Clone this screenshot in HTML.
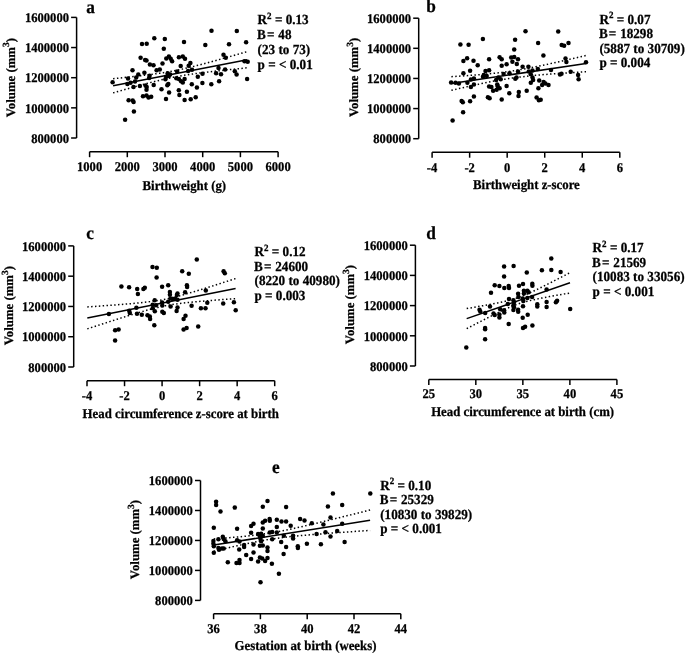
<!DOCTYPE html>
<html><head><meta charset="utf-8"><style>
html,body{margin:0;padding:0;background:#fff;}
svg{display:block;filter:grayscale(1);}
text{text-rendering:geometricPrecision;font-family:"Liberation Serif", serif;font-weight:bold;fill:#000;stroke:#000;stroke-width:0.25px;}
path{stroke:#000;stroke-width:1.5;fill:none;}
circle{fill:#000;}
</style></head><body>
<svg width="685" height="654" viewBox="0 0 685 654">
<path d="M76.6 17.4V138" />
<path d="M71.1 17.4H76.6" />
<text transform="translate(69 22.1) scale(1.0 1.06)" font-size="12.6" text-anchor="end">1600000</text>
<path d="M71.1 47.55H76.6" />
<text transform="translate(69 52.25) scale(1.0 1.06)" font-size="12.6" text-anchor="end">1400000</text>
<path d="M71.1 77.7H76.6" />
<text transform="translate(69 82.4) scale(1.0 1.06)" font-size="12.6" text-anchor="end">1200000</text>
<path d="M71.1 107.85H76.6" />
<text transform="translate(69 112.55) scale(1.0 1.06)" font-size="12.6" text-anchor="end">1000000</text>
<path d="M71.1 138H76.6" />
<text transform="translate(69 142.7) scale(1.0 1.06)" font-size="12.6" text-anchor="end">800000</text>
<path d="M89.6 151.7H278.1" />
<path d="M89.6 151.7V157.2" />
<text transform="translate(89.6 171.3) scale(1.0 1.06)" font-size="12.6" text-anchor="middle">1000</text>
<path d="M127.3 151.7V157.2" />
<text transform="translate(127.3 171.3) scale(1.0 1.06)" font-size="12.6" text-anchor="middle">2000</text>
<path d="M165 151.7V157.2" />
<text transform="translate(165 171.3) scale(1.0 1.06)" font-size="12.6" text-anchor="middle">3000</text>
<path d="M202.7 151.7V157.2" />
<text transform="translate(202.7 171.3) scale(1.0 1.06)" font-size="12.6" text-anchor="middle">4000</text>
<path d="M240.4 151.7V157.2" />
<text transform="translate(240.4 171.3) scale(1.0 1.06)" font-size="12.6" text-anchor="middle">5000</text>
<path d="M278.1 151.7V157.2" />
<text transform="translate(278.1 171.3) scale(1.0 1.06)" font-size="12.6" text-anchor="middle">6000</text>
<text transform="translate(184.3 189.6) scale(1.0 1.06)" font-size="12.8" text-anchor="middle">Birthweight (g)</text>
<text transform="translate(14.7 77.6) rotate(-90)" text-anchor="middle" font-size="12.8">Volume (mm<tspan dy="-5.3" font-size="9.5">3</tspan><tspan dy="5.3">)</tspan></text>
<text transform="translate(86.3 12.5) scale(1.0 1.06)" font-size="17.3">a</text>
<text transform="translate(257.6 24.1) scale(1.0 1.06)" font-size="13.15">R<tspan dy="-5" font-size="9">2</tspan><tspan dy="5"> = 0.13</tspan></text>
<text transform="translate(257.1 38.5) scale(1.0 1.06)" font-size="13.15" xml:space="preserve">B<tspan dx="1.2">=</tspan><tspan dx="0.5"> 48</tspan></text>
<text transform="translate(257.6 53.5) scale(1.0 1.06)" font-size="13.15" xml:space="preserve">(23 to 73)</text>
<text transform="translate(257.6 69) scale(1.0 1.06)" font-size="13.15" xml:space="preserve">p = &lt; 0.01</text>
<path d="M113.1 85.8L247.2 59.7" stroke-width="1.6"/>
<path d="M113.1 78.71 L116.45 78.36 L119.8 78.01 L123.16 77.66 L126.51 77.3 L129.86 76.94 L133.22 76.56 L136.57 76.19 L139.92 75.8 L143.27 75.4 L146.62 74.98 L149.98 74.56 L153.33 74.11 L156.68 73.64 L160.03 73.15 L163.39 72.64 L166.74 72.09 L170.09 71.5 L173.44 70.88 L176.8 70.23 L180.15 69.53 L183.5 68.8 L186.85 68.04 L190.21 67.24 L193.56 66.42 L196.91 65.58 L200.26 64.71 L203.62 63.83 L206.97 62.94 L210.32 62.03 L213.68 61.11 L217.03 60.18 L220.38 59.25 L223.73 58.3 L227.08 57.36 L230.44 56.4 L233.79 55.45 L237.14 54.49 L240.5 53.52 L243.85 52.56 L247.2 51.59" stroke-width="1.25" stroke-dasharray="1.45 2.4" fill="none"/>
<path d="M113.1 92.89 L116.45 91.93 L119.8 90.98 L123.16 90.03 L126.51 89.08 L129.86 88.14 L133.22 87.21 L136.57 86.28 L139.92 85.36 L143.27 84.46 L146.62 83.57 L149.98 82.69 L153.33 81.83 L156.68 80.99 L160.03 80.18 L163.39 79.39 L166.74 78.63 L170.09 77.91 L173.44 77.23 L176.8 76.58 L180.15 75.97 L183.5 75.39 L186.85 74.85 L190.21 74.34 L193.56 73.86 L196.91 73.4 L200.26 72.96 L203.62 72.53 L206.97 72.12 L210.32 71.73 L213.68 71.34 L217.03 70.96 L220.38 70.59 L223.73 70.23 L227.08 69.87 L230.44 69.52 L233.79 69.17 L237.14 68.83 L240.5 68.49 L243.85 68.15 L247.2 67.81" stroke-width="1.25" stroke-dasharray="1.45 2.4" fill="none"/>
<circle cx="154.3" cy="38.3" r="2.25"/>
<circle cx="164.8" cy="39.1" r="2.25"/>
<circle cx="142" cy="44.1" r="2.25"/>
<circle cx="146.7" cy="43.8" r="2.25"/>
<circle cx="163.8" cy="48.7" r="2.25"/>
<circle cx="140.6" cy="57.8" r="2.25"/>
<circle cx="145.1" cy="60.1" r="2.25"/>
<circle cx="146.5" cy="60.6" r="2.25"/>
<circle cx="149.9" cy="64.6" r="2.25"/>
<circle cx="153.5" cy="65.2" r="2.25"/>
<circle cx="162.5" cy="63.4" r="2.25"/>
<circle cx="166.3" cy="58.5" r="2.25"/>
<circle cx="168.9" cy="56.4" r="2.25"/>
<circle cx="170.7" cy="58.7" r="2.25"/>
<circle cx="172.1" cy="61.3" r="2.25"/>
<circle cx="132.5" cy="70.2" r="2.25"/>
<circle cx="144.4" cy="72.8" r="2.25"/>
<circle cx="156.6" cy="70.2" r="2.25"/>
<circle cx="159.8" cy="69.5" r="2.25"/>
<circle cx="138.3" cy="74.5" r="2.25"/>
<circle cx="136.2" cy="77.4" r="2.25"/>
<circle cx="128" cy="78.6" r="2.25"/>
<circle cx="149.6" cy="75.7" r="2.25"/>
<circle cx="167.7" cy="73.3" r="2.25"/>
<circle cx="170.1" cy="74.5" r="2.25"/>
<circle cx="177.1" cy="71.6" r="2.25"/>
<circle cx="211.5" cy="30.7" r="2.25"/>
<circle cx="236.8" cy="30.9" r="2.25"/>
<circle cx="184" cy="42" r="2.25"/>
<circle cx="205.3" cy="45" r="2.25"/>
<circle cx="229" cy="44.3" r="2.25"/>
<circle cx="246.1" cy="42.2" r="2.25"/>
<circle cx="223.5" cy="54.8" r="2.25"/>
<circle cx="225.8" cy="57.8" r="2.25"/>
<circle cx="178.9" cy="57.3" r="2.25"/>
<circle cx="182.8" cy="56.4" r="2.25"/>
<circle cx="185" cy="58.7" r="2.25"/>
<circle cx="190.4" cy="62.9" r="2.25"/>
<circle cx="188.7" cy="65.7" r="2.25"/>
<circle cx="180.7" cy="66.1" r="2.25"/>
<circle cx="188.1" cy="71" r="2.25"/>
<circle cx="192" cy="69.8" r="2.25"/>
<circle cx="218.5" cy="68.1" r="2.25"/>
<circle cx="225.1" cy="69.6" r="2.25"/>
<circle cx="244.5" cy="61.3" r="2.25"/>
<circle cx="247.7" cy="61.7" r="2.25"/>
<circle cx="234.8" cy="71.2" r="2.25"/>
<circle cx="236.6" cy="74.5" r="2.25"/>
<circle cx="202.5" cy="73.7" r="2.25"/>
<circle cx="197.8" cy="76.8" r="2.25"/>
<circle cx="216.1" cy="73.3" r="2.25"/>
<circle cx="221" cy="74.3" r="2.25"/>
<circle cx="247.1" cy="79" r="2.25"/>
<circle cx="112.6" cy="82.2" r="2.25"/>
<circle cx="127.4" cy="84" r="2.25"/>
<circle cx="130.6" cy="82.8" r="2.25"/>
<circle cx="135" cy="81.6" r="2.25"/>
<circle cx="133.5" cy="86.9" r="2.25"/>
<circle cx="139.9" cy="85.9" r="2.25"/>
<circle cx="145.5" cy="85.5" r="2.25"/>
<circle cx="146.7" cy="86.9" r="2.25"/>
<circle cx="146.5" cy="89.8" r="2.25"/>
<circle cx="149.1" cy="78.1" r="2.25"/>
<circle cx="153.7" cy="85.1" r="2.25"/>
<circle cx="161.5" cy="89.2" r="2.25"/>
<circle cx="165.4" cy="79.3" r="2.25"/>
<circle cx="168.3" cy="84" r="2.25"/>
<circle cx="169.1" cy="92.5" r="2.25"/>
<circle cx="166" cy="98.9" r="2.25"/>
<circle cx="143" cy="96.2" r="2.25"/>
<circle cx="146.5" cy="95.6" r="2.25"/>
<circle cx="148.5" cy="97.6" r="2.25"/>
<circle cx="151.2" cy="96.8" r="2.25"/>
<circle cx="128.6" cy="100.3" r="2.25"/>
<circle cx="132.7" cy="100.5" r="2.25"/>
<circle cx="133.6" cy="101.9" r="2.25"/>
<circle cx="168.8" cy="76" r="2.25"/>
<circle cx="166.2" cy="76.8" r="2.25"/>
<circle cx="167.3" cy="85.3" r="2.25"/>
<circle cx="133.9" cy="111.6" r="2.25"/>
<circle cx="125.1" cy="119.8" r="2.25"/>
<circle cx="178.8" cy="90.2" r="2.25"/>
<circle cx="179.4" cy="95.1" r="2.25"/>
<circle cx="176.3" cy="78.2" r="2.25"/>
<circle cx="178.9" cy="79" r="2.25"/>
<circle cx="181.1" cy="81.2" r="2.25"/>
<circle cx="182.8" cy="82.5" r="2.25"/>
<circle cx="184.6" cy="79" r="2.25"/>
<circle cx="191.8" cy="84.3" r="2.25"/>
<circle cx="196.9" cy="87.5" r="2.25"/>
<circle cx="202.4" cy="83.1" r="2.25"/>
<circle cx="211.3" cy="84.2" r="2.25"/>
<circle cx="219.1" cy="81.3" r="2.25"/>
<circle cx="186.9" cy="91.8" r="2.25"/>
<circle cx="184.6" cy="100.1" r="2.25"/>
<circle cx="190.7" cy="99.3" r="2.25"/>
<circle cx="195.7" cy="97.2" r="2.25"/>
<path d="M418.7 18.2V138.7" />
<path d="M413.2 18.2H418.7" />
<text transform="translate(411.1 22.9) scale(1.0 1.06)" font-size="12.6" text-anchor="end">1600000</text>
<path d="M413.2 48.32H418.7" />
<text transform="translate(411.1 53.02) scale(1.0 1.06)" font-size="12.6" text-anchor="end">1400000</text>
<path d="M413.2 78.45H418.7" />
<text transform="translate(411.1 83.15) scale(1.0 1.06)" font-size="12.6" text-anchor="end">1200000</text>
<path d="M413.2 108.57H418.7" />
<text transform="translate(411.1 113.27) scale(1.0 1.06)" font-size="12.6" text-anchor="end">1000000</text>
<path d="M413.2 138.7H418.7" />
<text transform="translate(411.1 143.4) scale(1.0 1.06)" font-size="12.6" text-anchor="end">800000</text>
<path d="M432.1 152.2H619.8" />
<path d="M432.1 152.2V157.7" />
<text transform="translate(432.1 171.6) scale(1.0 1.06)" font-size="12.6" text-anchor="middle">-4</text>
<path d="M469.64 152.2V157.7" />
<text transform="translate(469.64 171.6) scale(1.0 1.06)" font-size="12.6" text-anchor="middle">-2</text>
<path d="M507.18 152.2V157.7" />
<text transform="translate(507.18 171.6) scale(1.0 1.06)" font-size="12.6" text-anchor="middle">0</text>
<path d="M544.72 152.2V157.7" />
<text transform="translate(544.72 171.6) scale(1.0 1.06)" font-size="12.6" text-anchor="middle">2</text>
<path d="M582.26 152.2V157.7" />
<text transform="translate(582.26 171.6) scale(1.0 1.06)" font-size="12.6" text-anchor="middle">4</text>
<path d="M619.8 152.2V157.7" />
<text transform="translate(619.8 171.6) scale(1.0 1.06)" font-size="12.6" text-anchor="middle">6</text>
<text transform="translate(526.4 189.1) scale(1.0 1.06)" font-size="12.8" text-anchor="middle">Birthweight z-score</text>
<text transform="translate(358.3 77.4) rotate(-90)" text-anchor="middle" font-size="12.8">Volume (mm<tspan dy="-5.3" font-size="9.5">3</tspan><tspan dy="5.3">)</tspan></text>
<text transform="translate(426.2 12.4) scale(1.0 1.06)" font-size="17.3">b</text>
<text transform="translate(599.4 23.7) scale(1.0 1.06)" font-size="13.15">R<tspan dy="-5" font-size="9">2</tspan><tspan dy="5"> = 0.07</tspan></text>
<text transform="translate(598.9 38.4) scale(1.0 1.06)" font-size="13.15" xml:space="preserve">B<tspan dx="1.2">=</tspan><tspan dx="0.5"> 18298</tspan></text>
<text transform="translate(599.4 52.6) scale(1.0 1.06)" font-size="13.15" xml:space="preserve">(5887 to 30709)</text>
<text transform="translate(599.4 67.1) scale(1.0 1.06)" font-size="13.15" xml:space="preserve">p = 0.004</text>
<path d="M451.4 83.5L586 63.6" stroke-width="1.6"/>
<path d="M451.4 76.71 L454.76 76.49 L458.13 76.26 L461.5 76.03 L464.86 75.79 L468.22 75.55 L471.59 75.29 L474.95 75.03 L478.32 74.75 L481.69 74.47 L485.05 74.16 L488.41 73.85 L491.78 73.51 L495.14 73.15 L498.51 72.77 L501.88 72.37 L505.24 71.94 L508.6 71.47 L511.97 70.98 L515.34 70.46 L518.7 69.91 L522.06 69.33 L525.43 68.73 L528.79 68.1 L532.16 67.45 L535.52 66.78 L538.89 66.09 L542.25 65.39 L545.62 64.68 L548.99 63.95 L552.35 63.21 L555.72 62.47 L559.08 61.71 L562.45 60.95 L565.81 60.19 L569.17 59.42 L572.54 58.64 L575.9 57.86 L579.27 57.08 L582.63 56.29 L586 55.5" stroke-width="1.25" stroke-dasharray="1.45 2.4" fill="none"/>
<path d="M451.4 90.29 L454.76 89.52 L458.13 88.75 L461.5 87.99 L464.86 87.23 L468.22 86.48 L471.59 85.74 L474.95 85.01 L478.32 84.29 L481.69 83.58 L485.05 82.89 L488.41 82.21 L491.78 81.55 L495.14 80.91 L498.51 80.3 L501.88 79.71 L505.24 79.14 L508.6 78.61 L511.97 78.11 L515.34 77.63 L518.7 77.19 L522.06 76.77 L525.43 76.38 L528.79 76.01 L532.16 75.67 L535.52 75.34 L538.89 75.04 L542.25 74.74 L545.62 74.46 L548.99 74.2 L552.35 73.94 L555.72 73.69 L559.08 73.45 L562.45 73.21 L565.81 72.98 L569.17 72.76 L572.54 72.54 L575.9 72.33 L579.27 72.11 L582.63 71.9 L586 71.7" stroke-width="1.25" stroke-dasharray="1.45 2.4" fill="none"/>
<circle cx="482.9" cy="38.9" r="2.25"/>
<circle cx="515.1" cy="39.8" r="2.25"/>
<circle cx="460.4" cy="44.4" r="2.25"/>
<circle cx="468.6" cy="44.7" r="2.25"/>
<circle cx="514.2" cy="49.4" r="2.25"/>
<circle cx="467.1" cy="58.2" r="2.25"/>
<circle cx="463.4" cy="61.1" r="2.25"/>
<circle cx="473.5" cy="60.8" r="2.25"/>
<circle cx="489.1" cy="59.3" r="2.25"/>
<circle cx="499.6" cy="57.3" r="2.25"/>
<circle cx="501.7" cy="59.3" r="2.25"/>
<circle cx="511.2" cy="57.6" r="2.25"/>
<circle cx="514.2" cy="57" r="2.25"/>
<circle cx="512.4" cy="61.7" r="2.25"/>
<circle cx="518" cy="59.3" r="2.25"/>
<circle cx="516.8" cy="64" r="2.25"/>
<circle cx="506.6" cy="64.2" r="2.25"/>
<circle cx="501.7" cy="65.7" r="2.25"/>
<circle cx="477.7" cy="65.2" r="2.25"/>
<circle cx="470.1" cy="70.8" r="2.25"/>
<circle cx="463.4" cy="73.3" r="2.25"/>
<circle cx="485.5" cy="71" r="2.25"/>
<circle cx="489.1" cy="70.2" r="2.25"/>
<circle cx="483.8" cy="74.9" r="2.25"/>
<circle cx="486.7" cy="76" r="2.25"/>
<circle cx="483" cy="76.8" r="2.25"/>
<circle cx="503.6" cy="73.9" r="2.25"/>
<circle cx="509.5" cy="73.3" r="2.25"/>
<circle cx="518" cy="71.6" r="2.25"/>
<circle cx="498.4" cy="77.4" r="2.25"/>
<circle cx="525.5" cy="31.3" r="2.25"/>
<circle cx="558.2" cy="31.5" r="2.25"/>
<circle cx="538.1" cy="43" r="2.25"/>
<circle cx="561.7" cy="45" r="2.25"/>
<circle cx="564.1" cy="45.7" r="2.25"/>
<circle cx="568.5" cy="43" r="2.25"/>
<circle cx="543.4" cy="55.6" r="2.25"/>
<circle cx="565.5" cy="58.5" r="2.25"/>
<circle cx="566.4" cy="62" r="2.25"/>
<circle cx="586" cy="62.2" r="2.25"/>
<circle cx="522.6" cy="66.7" r="2.25"/>
<circle cx="528.4" cy="66.7" r="2.25"/>
<circle cx="532.5" cy="70.4" r="2.25"/>
<circle cx="537.8" cy="69" r="2.25"/>
<circle cx="528.8" cy="71.6" r="2.25"/>
<circle cx="530.8" cy="74.2" r="2.25"/>
<circle cx="551" cy="70.1" r="2.25"/>
<circle cx="560" cy="74.5" r="2.25"/>
<circle cx="561.5" cy="73.7" r="2.25"/>
<circle cx="570.7" cy="71.8" r="2.25"/>
<circle cx="578.1" cy="75.1" r="2.25"/>
<circle cx="578.6" cy="79.2" r="2.25"/>
<circle cx="451.1" cy="82.6" r="2.25"/>
<circle cx="455.5" cy="82.8" r="2.25"/>
<circle cx="458.9" cy="83.4" r="2.25"/>
<circle cx="467.4" cy="82.8" r="2.25"/>
<circle cx="470.9" cy="79.6" r="2.25"/>
<circle cx="473.9" cy="78.5" r="2.25"/>
<circle cx="473.9" cy="84.5" r="2.25"/>
<circle cx="470.9" cy="86.9" r="2.25"/>
<circle cx="496.1" cy="80.1" r="2.25"/>
<circle cx="500.7" cy="79.3" r="2.25"/>
<circle cx="489.1" cy="86.5" r="2.25"/>
<circle cx="491.4" cy="86.9" r="2.25"/>
<circle cx="497.2" cy="84.5" r="2.25"/>
<circle cx="497.8" cy="86.3" r="2.25"/>
<circle cx="499.6" cy="88.3" r="2.25"/>
<circle cx="493.1" cy="90.7" r="2.25"/>
<circle cx="496.6" cy="89.8" r="2.25"/>
<circle cx="506.6" cy="85.9" r="2.25"/>
<circle cx="509.3" cy="93.3" r="2.25"/>
<circle cx="515.3" cy="78.7" r="2.25"/>
<circle cx="516.5" cy="77.5" r="2.25"/>
<circle cx="518.8" cy="92.1" r="2.25"/>
<circle cx="518.5" cy="96" r="2.25"/>
<circle cx="473.9" cy="96.5" r="2.25"/>
<circle cx="487.9" cy="97.2" r="2.25"/>
<circle cx="489.6" cy="98.3" r="2.25"/>
<circle cx="501.7" cy="99.5" r="2.25"/>
<circle cx="461.6" cy="101.1" r="2.25"/>
<circle cx="462.8" cy="102.3" r="2.25"/>
<circle cx="470.1" cy="101.2" r="2.25"/>
<circle cx="463.1" cy="112.2" r="2.25"/>
<circle cx="452.6" cy="120.5" r="2.25"/>
<circle cx="532.5" cy="77.5" r="2.25"/>
<circle cx="533.1" cy="79.9" r="2.25"/>
<circle cx="530.8" cy="82.8" r="2.25"/>
<circle cx="539.2" cy="80.5" r="2.25"/>
<circle cx="543.6" cy="82" r="2.25"/>
<circle cx="542.1" cy="85.1" r="2.25"/>
<circle cx="545.4" cy="83.6" r="2.25"/>
<circle cx="548.5" cy="85.1" r="2.25"/>
<circle cx="538.4" cy="88.3" r="2.25"/>
<circle cx="526.7" cy="90.7" r="2.25"/>
<circle cx="536.6" cy="97.6" r="2.25"/>
<circle cx="538.9" cy="100.3" r="2.25"/>
<circle cx="540.7" cy="99.7" r="2.25"/>
<path d="M73.7 245.9V367" />
<path d="M68.2 245.9H73.7" />
<text transform="translate(66.1 250.6) scale(1.0 1.06)" font-size="12.6" text-anchor="end">1600000</text>
<path d="M68.2 276.18H73.7" />
<text transform="translate(66.1 280.88) scale(1.0 1.06)" font-size="12.6" text-anchor="end">1400000</text>
<path d="M68.2 306.45H73.7" />
<text transform="translate(66.1 311.15) scale(1.0 1.06)" font-size="12.6" text-anchor="end">1200000</text>
<path d="M68.2 336.73H73.7" />
<text transform="translate(66.1 341.43) scale(1.0 1.06)" font-size="12.6" text-anchor="end">1000000</text>
<path d="M68.2 367H73.7" />
<text transform="translate(66.1 371.7) scale(1.0 1.06)" font-size="12.6" text-anchor="end">800000</text>
<path d="M87 380.7H274.7" />
<path d="M87 380.7V386.2" />
<text transform="translate(87 399.8) scale(1.0 1.06)" font-size="12.6" text-anchor="middle">-4</text>
<path d="M124.54 380.7V386.2" />
<text transform="translate(124.54 399.8) scale(1.0 1.06)" font-size="12.6" text-anchor="middle">-2</text>
<path d="M162.08 380.7V386.2" />
<text transform="translate(162.08 399.8) scale(1.0 1.06)" font-size="12.6" text-anchor="middle">0</text>
<path d="M199.62 380.7V386.2" />
<text transform="translate(199.62 399.8) scale(1.0 1.06)" font-size="12.6" text-anchor="middle">2</text>
<path d="M237.16 380.7V386.2" />
<text transform="translate(237.16 399.8) scale(1.0 1.06)" font-size="12.6" text-anchor="middle">4</text>
<path d="M274.7 380.7V386.2" />
<text transform="translate(274.7 399.8) scale(1.0 1.06)" font-size="12.6" text-anchor="middle">6</text>
<text transform="translate(180.7 417.7) scale(1.0 1.06)" font-size="12.8" text-anchor="middle">Head circumference z-score at birth</text>
<text transform="translate(13.4 305.6) rotate(-90)" text-anchor="middle" font-size="12.8">Volume (mm<tspan dy="-5.3" font-size="9.5">3</tspan><tspan dy="5.3">)</tspan></text>
<text transform="translate(86.2 238.9) scale(1.0 1.06)" font-size="17.3">c</text>
<text transform="translate(254.5 256.1) scale(1.0 1.06)" font-size="13.15">R<tspan dy="-5" font-size="9">2</tspan><tspan dy="5"> = 0.12</tspan></text>
<text transform="translate(254 270.7) scale(1.0 1.06)" font-size="13.15" xml:space="preserve">B<tspan dx="1.2">=</tspan><tspan dx="0.5"> 24600</tspan></text>
<text transform="translate(254.5 284.7) scale(1.0 1.06)" font-size="13.15" xml:space="preserve">(8220 to 40980)</text>
<text transform="translate(254.5 299.6) scale(1.0 1.06)" font-size="13.15" xml:space="preserve">p = 0.003</text>
<path d="M87.3 317.9L235.6 288.6" stroke-width="1.6"/>
<path d="M87.3 306.94 L91.01 306.68 L94.72 306.42 L98.42 306.16 L102.13 305.89 L105.84 305.62 L109.55 305.35 L113.25 305.07 L116.96 304.78 L120.67 304.49 L124.38 304.19 L128.08 303.88 L131.79 303.56 L135.5 303.22 L139.21 302.86 L142.91 302.47 L146.62 302.06 L150.33 301.6 L154.03 301.1 L157.74 300.54 L161.45 299.92 L165.16 299.22 L168.87 298.44 L172.57 297.6 L176.28 296.69 L179.99 295.72 L183.69 294.71 L187.4 293.65 L191.11 292.57 L194.82 291.46 L198.52 290.34 L202.23 289.2 L205.94 288.04 L209.65 286.88 L213.36 285.7 L217.06 284.52 L220.77 283.34 L224.48 282.14 L228.19 280.95 L231.89 279.75 L235.6 278.55" stroke-width="1.25" stroke-dasharray="1.45 2.4" fill="none"/>
<path d="M87.3 328.86 L91.01 327.65 L94.72 326.45 L98.42 325.25 L102.13 324.05 L105.84 322.85 L109.55 321.66 L113.25 320.48 L116.96 319.3 L120.67 318.12 L124.38 316.96 L128.08 315.8 L131.79 314.66 L135.5 313.54 L139.21 312.43 L142.91 311.35 L146.62 310.3 L150.33 309.29 L154.03 308.33 L157.74 307.42 L161.45 306.58 L165.16 305.82 L168.87 305.13 L172.57 304.51 L176.28 303.95 L179.99 303.45 L183.69 303 L187.4 302.59 L191.11 302.21 L194.82 301.85 L198.52 301.51 L202.23 301.19 L205.94 300.88 L209.65 300.58 L213.36 300.29 L217.06 300 L220.77 299.72 L224.48 299.45 L228.19 299.18 L231.89 298.92 L235.6 298.65" stroke-width="1.25" stroke-dasharray="1.45 2.4" fill="none"/>
<circle cx="152.5" cy="266.9" r="2.25"/>
<circle cx="156.8" cy="267.8" r="2.25"/>
<circle cx="156.6" cy="277.4" r="2.25"/>
<circle cx="121.4" cy="286.5" r="2.25"/>
<circle cx="129.1" cy="287.3" r="2.25"/>
<circle cx="137.2" cy="289.1" r="2.25"/>
<circle cx="143.4" cy="289.1" r="2.25"/>
<circle cx="144.8" cy="287.7" r="2.25"/>
<circle cx="137.9" cy="294.1" r="2.25"/>
<circle cx="162.1" cy="286.8" r="2.25"/>
<circle cx="154.7" cy="300.2" r="2.25"/>
<circle cx="136.4" cy="307.8" r="2.25"/>
<circle cx="152.7" cy="304.8" r="2.25"/>
<circle cx="156" cy="305.2" r="2.25"/>
<circle cx="152.7" cy="308.3" r="2.25"/>
<circle cx="154.8" cy="311.3" r="2.25"/>
<circle cx="162.1" cy="302.5" r="2.25"/>
<circle cx="162.3" cy="305.4" r="2.25"/>
<circle cx="162.3" cy="311.7" r="2.25"/>
<circle cx="163.8" cy="312.9" r="2.25"/>
<circle cx="129.2" cy="310.7" r="2.25"/>
<circle cx="129.8" cy="312.9" r="2.25"/>
<circle cx="108.9" cy="314" r="2.25"/>
<circle cx="137" cy="313.8" r="2.25"/>
<circle cx="141.8" cy="314.7" r="2.25"/>
<circle cx="147.5" cy="315.2" r="2.25"/>
<circle cx="149.8" cy="316.6" r="2.25"/>
<circle cx="150.1" cy="318.9" r="2.25"/>
<circle cx="154.3" cy="325.3" r="2.25"/>
<circle cx="115.1" cy="330.3" r="2.25"/>
<circle cx="118.6" cy="329.4" r="2.25"/>
<circle cx="115.1" cy="340.5" r="2.25"/>
<circle cx="196.8" cy="259.6" r="2.25"/>
<circle cx="182.2" cy="271.2" r="2.25"/>
<circle cx="188.8" cy="273.7" r="2.25"/>
<circle cx="223.6" cy="271.3" r="2.25"/>
<circle cx="224.8" cy="273.3" r="2.25"/>
<circle cx="168.2" cy="285.3" r="2.25"/>
<circle cx="186.9" cy="285.3" r="2.25"/>
<circle cx="187.1" cy="287" r="2.25"/>
<circle cx="169.9" cy="292" r="2.25"/>
<circle cx="169.9" cy="294.7" r="2.25"/>
<circle cx="177.5" cy="293.5" r="2.25"/>
<circle cx="176.9" cy="294.9" r="2.25"/>
<circle cx="185.1" cy="292.3" r="2.25"/>
<circle cx="205.8" cy="290.5" r="2.25"/>
<circle cx="170.5" cy="298.4" r="2.25"/>
<circle cx="172.8" cy="299" r="2.25"/>
<circle cx="175.2" cy="298.6" r="2.25"/>
<circle cx="177.5" cy="299.8" r="2.25"/>
<circle cx="168.2" cy="301.7" r="2.25"/>
<circle cx="170.6" cy="306.6" r="2.25"/>
<circle cx="177.5" cy="307.5" r="2.25"/>
<circle cx="176.6" cy="310.9" r="2.25"/>
<circle cx="191.6" cy="305.8" r="2.25"/>
<circle cx="200.9" cy="308.3" r="2.25"/>
<circle cx="205.5" cy="308.3" r="2.25"/>
<circle cx="207.3" cy="302.8" r="2.25"/>
<circle cx="223.2" cy="303.6" r="2.25"/>
<circle cx="233.9" cy="302.2" r="2.25"/>
<circle cx="235.7" cy="310.2" r="2.25"/>
<circle cx="185.5" cy="315.8" r="2.25"/>
<circle cx="183.6" cy="319" r="2.25"/>
<circle cx="186.6" cy="328" r="2.25"/>
<circle cx="183.6" cy="329.4" r="2.25"/>
<circle cx="198.2" cy="326.6" r="2.25"/>
<path d="M415.4 245.2V366" />
<path d="M409.9 245.2H415.4" />
<text transform="translate(407.8 249.9) scale(1.0 1.06)" font-size="12.6" text-anchor="end">1600000</text>
<path d="M409.9 275.4H415.4" />
<text transform="translate(407.8 280.1) scale(1.0 1.06)" font-size="12.6" text-anchor="end">1400000</text>
<path d="M409.9 305.6H415.4" />
<text transform="translate(407.8 310.3) scale(1.0 1.06)" font-size="12.6" text-anchor="end">1200000</text>
<path d="M409.9 335.8H415.4" />
<text transform="translate(407.8 340.5) scale(1.0 1.06)" font-size="12.6" text-anchor="end">1000000</text>
<path d="M409.9 366H415.4" />
<text transform="translate(407.8 370.7) scale(1.0 1.06)" font-size="12.6" text-anchor="end">800000</text>
<path d="M428.8 379.4H616.9" />
<path d="M428.8 379.4V384.9" />
<text transform="translate(428.8 398.4) scale(1.0 1.06)" font-size="12.6" text-anchor="middle">25</text>
<path d="M475.82 379.4V384.9" />
<text transform="translate(475.82 398.4) scale(1.0 1.06)" font-size="12.6" text-anchor="middle">30</text>
<path d="M522.85 379.4V384.9" />
<text transform="translate(522.85 398.4) scale(1.0 1.06)" font-size="12.6" text-anchor="middle">35</text>
<path d="M569.88 379.4V384.9" />
<text transform="translate(569.88 398.4) scale(1.0 1.06)" font-size="12.6" text-anchor="middle">40</text>
<path d="M616.9 379.4V384.9" />
<text transform="translate(616.9 398.4) scale(1.0 1.06)" font-size="12.6" text-anchor="middle">45</text>
<text transform="translate(522.6 416.2) scale(1.0 1.06)" font-size="12.8" text-anchor="middle">Head circumference at birth (cm)</text>
<text transform="translate(353.8 304.5) rotate(-90)" text-anchor="middle" font-size="12.8">Volume (mm<tspan dy="-5.3" font-size="9.5">3</tspan><tspan dy="5.3">)</tspan></text>
<text transform="translate(426.2 239.4) scale(1.0 1.06)" font-size="17.3">d</text>
<text transform="translate(592.6 251.8) scale(1.0 1.06)" font-size="13.15">R<tspan dy="-5" font-size="9">2</tspan><tspan dy="5"> = 0.17</tspan></text>
<text transform="translate(592.1 266.5) scale(1.0 1.06)" font-size="13.15" xml:space="preserve">B<tspan dx="1.2">=</tspan><tspan dx="0.5"> 21569</tspan></text>
<text transform="translate(592.6 281.1) scale(1.0 1.06)" font-size="13.15" xml:space="preserve">(10083 to 33056)</text>
<text transform="translate(592.6 295.7) scale(1.0 1.06)" font-size="13.15" xml:space="preserve">p = &lt; 0.001</text>
<path d="M466.7 318.6L570 282.8" stroke-width="1.6"/>
<path d="M466.7 308.54 L469.28 308.1 L471.87 307.65 L474.45 307.21 L477.03 306.75 L479.61 306.3 L482.19 305.84 L484.78 305.38 L487.36 304.9 L489.94 304.42 L492.52 303.93 L495.11 303.43 L497.69 302.91 L500.27 302.37 L502.86 301.81 L505.44 301.21 L508.02 300.58 L510.6 299.9 L513.18 299.17 L515.77 298.37 L518.35 297.5 L520.93 296.56 L523.51 295.55 L526.1 294.48 L528.68 293.35 L531.26 292.18 L533.85 290.98 L536.43 289.75 L539.01 288.49 L541.59 287.21 L544.17 285.92 L546.76 284.62 L549.34 283.31 L551.92 281.99 L554.5 280.66 L557.09 279.33 L559.67 277.99 L562.25 276.65 L564.84 275.31 L567.42 273.96 L570 272.61" stroke-width="1.25" stroke-dasharray="1.45 2.4" fill="none"/>
<path d="M466.7 328.66 L469.28 327.31 L471.87 325.97 L474.45 324.62 L477.03 323.29 L479.61 321.95 L482.19 320.62 L484.78 319.29 L487.36 317.98 L489.94 316.67 L492.52 315.37 L495.11 314.08 L497.69 312.81 L500.27 311.56 L502.86 310.33 L505.44 309.14 L508.02 307.98 L510.6 306.87 L513.18 305.81 L515.77 304.82 L518.35 303.9 L520.93 303.05 L523.51 302.27 L526.1 301.55 L528.68 300.89 L531.26 300.27 L533.85 299.68 L536.43 299.12 L539.01 298.59 L541.59 298.08 L544.17 297.58 L546.76 297.09 L549.34 296.61 L551.92 296.14 L554.5 295.68 L557.09 295.22 L559.67 294.77 L562.25 294.32 L564.84 293.87 L567.42 293.43 L570 292.99" stroke-width="1.25" stroke-dasharray="1.45 2.4" fill="none"/>
<circle cx="504.1" cy="266.6" r="2.25"/>
<circle cx="513.6" cy="265.9" r="2.25"/>
<circle cx="526.8" cy="272.6" r="2.25"/>
<circle cx="504.1" cy="276.5" r="2.25"/>
<circle cx="494.7" cy="285.3" r="2.25"/>
<circle cx="499.4" cy="286.1" r="2.25"/>
<circle cx="504.3" cy="288.1" r="2.25"/>
<circle cx="508.7" cy="286.1" r="2.25"/>
<circle cx="509" cy="288.1" r="2.25"/>
<circle cx="519" cy="285.8" r="2.25"/>
<circle cx="523" cy="284" r="2.25"/>
<circle cx="532.3" cy="283.8" r="2.25"/>
<circle cx="532.4" cy="285.8" r="2.25"/>
<circle cx="491" cy="292.8" r="2.25"/>
<circle cx="518.1" cy="293.7" r="2.25"/>
<circle cx="518.4" cy="297" r="2.25"/>
<circle cx="523.9" cy="290.8" r="2.25"/>
<circle cx="523.9" cy="293.5" r="2.25"/>
<circle cx="527.4" cy="290.8" r="2.25"/>
<circle cx="528.6" cy="292.3" r="2.25"/>
<circle cx="509" cy="299" r="2.25"/>
<circle cx="513.4" cy="300.2" r="2.25"/>
<circle cx="514" cy="302.5" r="2.25"/>
<circle cx="513.4" cy="305.4" r="2.25"/>
<circle cx="514" cy="307.2" r="2.25"/>
<circle cx="513.4" cy="310.1" r="2.25"/>
<circle cx="507.8" cy="304" r="2.25"/>
<circle cx="522.7" cy="298.6" r="2.25"/>
<circle cx="523.3" cy="301" r="2.25"/>
<circle cx="527.4" cy="298" r="2.25"/>
<circle cx="532.1" cy="297.1" r="2.25"/>
<circle cx="523" cy="306.3" r="2.25"/>
<circle cx="518.1" cy="309.7" r="2.25"/>
<circle cx="518.2" cy="311.7" r="2.25"/>
<circle cx="490" cy="306.4" r="2.25"/>
<circle cx="479.5" cy="309.7" r="2.25"/>
<circle cx="480.3" cy="311.6" r="2.25"/>
<circle cx="485.2" cy="312.9" r="2.25"/>
<circle cx="500.2" cy="309.2" r="2.25"/>
<circle cx="504.1" cy="310.2" r="2.25"/>
<circle cx="504.3" cy="312.6" r="2.25"/>
<circle cx="493.5" cy="313.5" r="2.25"/>
<circle cx="494.7" cy="315.1" r="2.25"/>
<circle cx="499.4" cy="314.4" r="2.25"/>
<circle cx="499.4" cy="317.5" r="2.25"/>
<circle cx="527.7" cy="314.8" r="2.25"/>
<circle cx="551.3" cy="258.5" r="2.25"/>
<circle cx="541.9" cy="270.2" r="2.25"/>
<circle cx="551.3" cy="270" r="2.25"/>
<circle cx="560.6" cy="271.9" r="2.25"/>
<circle cx="546.6" cy="289.4" r="2.25"/>
<circle cx="537.3" cy="304.3" r="2.25"/>
<circle cx="537.3" cy="306.6" r="2.25"/>
<circle cx="546.6" cy="301.9" r="2.25"/>
<circle cx="546.6" cy="306.9" r="2.25"/>
<circle cx="555.9" cy="302.2" r="2.25"/>
<circle cx="557.1" cy="300.7" r="2.25"/>
<circle cx="570.2" cy="309" r="2.25"/>
<circle cx="522.7" cy="317.8" r="2.25"/>
<circle cx="508.7" cy="323.9" r="2.25"/>
<circle cx="523" cy="328" r="2.25"/>
<circle cx="525.1" cy="326.8" r="2.25"/>
<circle cx="532.4" cy="325.5" r="2.25"/>
<circle cx="485.1" cy="328" r="2.25"/>
<circle cx="485.1" cy="329.2" r="2.25"/>
<circle cx="485.1" cy="339.3" r="2.25"/>
<circle cx="466.3" cy="347.5" r="2.25"/>
<path d="M200.5 480.5V600.4" />
<path d="M195 480.5H200.5" />
<text transform="translate(192.9 485.2) scale(1.0 1.06)" font-size="12.6" text-anchor="end">1600000</text>
<path d="M195 510.48H200.5" />
<text transform="translate(192.9 515.18) scale(1.0 1.06)" font-size="12.6" text-anchor="end">1400000</text>
<path d="M195 540.45H200.5" />
<text transform="translate(192.9 545.15) scale(1.0 1.06)" font-size="12.6" text-anchor="end">1200000</text>
<path d="M195 570.42H200.5" />
<text transform="translate(192.9 575.12) scale(1.0 1.06)" font-size="12.6" text-anchor="end">1000000</text>
<path d="M195 600.4H200.5" />
<text transform="translate(192.9 605.1) scale(1.0 1.06)" font-size="12.6" text-anchor="end">800000</text>
<path d="M213.6 613.7H400.8" />
<path d="M213.6 613.7V619.2" />
<text transform="translate(213.6 632.7) scale(1.0 1.06)" font-size="12.6" text-anchor="middle">36</text>
<path d="M260.4 613.7V619.2" />
<text transform="translate(260.4 632.7) scale(1.0 1.06)" font-size="12.6" text-anchor="middle">38</text>
<path d="M307.2 613.7V619.2" />
<text transform="translate(307.2 632.7) scale(1.0 1.06)" font-size="12.6" text-anchor="middle">40</text>
<path d="M354 613.7V619.2" />
<text transform="translate(354 632.7) scale(1.0 1.06)" font-size="12.6" text-anchor="middle">42</text>
<path d="M400.8 613.7V619.2" />
<text transform="translate(400.8 632.7) scale(1.0 1.06)" font-size="12.6" text-anchor="middle">44</text>
<text transform="translate(305.5 649.8) scale(1.0 1.06)" font-size="12.8" text-anchor="middle">Gestation at birth (weeks)</text>
<text transform="translate(138.9 539.5) rotate(-90)" text-anchor="middle" font-size="12.8">Volume (mm<tspan dy="-5.3" font-size="9.5">3</tspan><tspan dy="5.3">)</tspan></text>
<text transform="translate(272.1 472.6) scale(1.0 1.06)" font-size="17.3">e</text>
<text transform="translate(380.2 489.7) scale(1.0 1.06)" font-size="13.15">R<tspan dy="-5" font-size="9">2</tspan><tspan dy="5"> = 0.10</tspan></text>
<text transform="translate(379.7 504) scale(1.0 1.06)" font-size="13.15" xml:space="preserve">B<tspan dx="1.2">=</tspan><tspan dx="0.5"> 25329</tspan></text>
<text transform="translate(380.2 518.6) scale(1.0 1.06)" font-size="13.15" xml:space="preserve">(10830 to 39829)</text>
<text transform="translate(380.2 532.9) scale(1.0 1.06)" font-size="13.15" xml:space="preserve">p = &lt; 0.001</text>
<path d="M213.8 545.1L370.1 520.2" stroke-width="1.6"/>
<path d="M213.8 538.95 L217.71 538.64 L221.62 538.33 L225.52 538.02 L229.43 537.69 L233.34 537.35 L237.25 537 L241.15 536.63 L245.06 536.24 L248.97 535.82 L252.88 535.38 L256.78 534.91 L260.69 534.4 L264.6 533.85 L268.5 533.25 L272.41 532.62 L276.32 531.93 L280.23 531.21 L284.13 530.44 L288.04 529.65 L291.95 528.82 L295.86 527.97 L299.76 527.1 L303.67 526.21 L307.58 525.31 L311.49 524.4 L315.39 523.47 L319.3 522.54 L323.21 521.6 L327.12 520.65 L331.02 519.7 L334.93 518.74 L338.84 517.78 L342.75 516.82 L346.66 515.85 L350.56 514.88 L354.47 513.91 L358.38 512.93 L362.29 511.96 L366.19 510.98 L370.1 510" stroke-width="1.25" stroke-dasharray="1.45 2.4" fill="none"/>
<path d="M213.8 551.25 L217.71 550.31 L221.62 549.38 L225.52 548.45 L229.43 547.53 L233.34 546.63 L237.25 545.73 L241.15 544.86 L245.06 544 L248.97 543.17 L252.88 542.37 L256.78 541.6 L260.69 540.86 L264.6 540.17 L268.5 539.52 L272.41 538.91 L276.32 538.35 L280.23 537.83 L284.13 537.35 L288.04 536.9 L291.95 536.48 L295.86 536.08 L299.76 535.71 L303.67 535.35 L307.58 535.01 L311.49 534.68 L315.39 534.36 L319.3 534.05 L323.21 533.74 L327.12 533.44 L331.02 533.15 L334.93 532.86 L338.84 532.58 L342.75 532.3 L346.66 532.02 L350.56 531.74 L354.47 531.47 L358.38 531.2 L362.29 530.93 L366.19 530.66 L370.1 530.4" stroke-width="1.25" stroke-dasharray="1.45 2.4" fill="none"/>
<circle cx="216.1" cy="501.8" r="2.25"/>
<circle cx="216.1" cy="505.1" r="2.25"/>
<circle cx="220.5" cy="511.5" r="2.25"/>
<circle cx="234.8" cy="507.6" r="2.25"/>
<circle cx="267.5" cy="501" r="2.25"/>
<circle cx="262.8" cy="506.8" r="2.25"/>
<circle cx="213.8" cy="527.8" r="2.25"/>
<circle cx="237.1" cy="528.8" r="2.25"/>
<circle cx="251.1" cy="526.1" r="2.25"/>
<circle cx="253.5" cy="523.7" r="2.25"/>
<circle cx="262.8" cy="522.6" r="2.25"/>
<circle cx="265.1" cy="520.8" r="2.25"/>
<circle cx="269.6" cy="519.1" r="2.25"/>
<circle cx="269.8" cy="520.8" r="2.25"/>
<circle cx="276.8" cy="519.7" r="2.25"/>
<circle cx="281.5" cy="521.4" r="2.25"/>
<circle cx="276.8" cy="527" r="2.25"/>
<circle cx="262.8" cy="528.6" r="2.25"/>
<circle cx="251.1" cy="532.7" r="2.25"/>
<circle cx="258.1" cy="534" r="2.25"/>
<circle cx="261.1" cy="533.7" r="2.25"/>
<circle cx="259.9" cy="536.6" r="2.25"/>
<circle cx="262.8" cy="536" r="2.25"/>
<circle cx="260.5" cy="538.9" r="2.25"/>
<circle cx="261.1" cy="541.3" r="2.25"/>
<circle cx="269.8" cy="532.5" r="2.25"/>
<circle cx="272.2" cy="531.9" r="2.25"/>
<circle cx="276.8" cy="532.5" r="2.25"/>
<circle cx="272.2" cy="539.2" r="2.25"/>
<circle cx="281.2" cy="542.1" r="2.25"/>
<circle cx="283.8" cy="535.7" r="2.25"/>
<circle cx="222.8" cy="536.8" r="2.25"/>
<circle cx="223.7" cy="538.9" r="2.25"/>
<circle cx="225.4" cy="541.3" r="2.25"/>
<circle cx="218.4" cy="539.3" r="2.25"/>
<circle cx="213.4" cy="541" r="2.25"/>
<circle cx="213.4" cy="543.8" r="2.25"/>
<circle cx="213.8" cy="546.3" r="2.25"/>
<circle cx="237.1" cy="540.2" r="2.25"/>
<circle cx="239.5" cy="541.5" r="2.25"/>
<circle cx="332.9" cy="493.6" r="2.25"/>
<circle cx="286.1" cy="507" r="2.25"/>
<circle cx="327.9" cy="506.5" r="2.25"/>
<circle cx="342.2" cy="505.1" r="2.25"/>
<circle cx="286.1" cy="521.4" r="2.25"/>
<circle cx="300.1" cy="519.1" r="2.25"/>
<circle cx="304.5" cy="520.6" r="2.25"/>
<circle cx="290.7" cy="525.7" r="2.25"/>
<circle cx="311.8" cy="523.2" r="2.25"/>
<circle cx="323.4" cy="524.6" r="2.25"/>
<circle cx="330.5" cy="517.6" r="2.25"/>
<circle cx="342.2" cy="523.7" r="2.25"/>
<circle cx="293.1" cy="535.8" r="2.25"/>
<circle cx="293.1" cy="538.6" r="2.25"/>
<circle cx="316.6" cy="533.9" r="2.25"/>
<circle cx="325.5" cy="532.2" r="2.25"/>
<circle cx="330.5" cy="536.4" r="2.25"/>
<circle cx="337.2" cy="531" r="2.25"/>
<circle cx="306.9" cy="543.8" r="2.25"/>
<circle cx="320.9" cy="544.2" r="2.25"/>
<circle cx="344.6" cy="541.9" r="2.25"/>
<circle cx="297.8" cy="546.2" r="2.25"/>
<circle cx="297.9" cy="548" r="2.25"/>
<circle cx="370.3" cy="493.6" r="2.25"/>
<circle cx="218.4" cy="548" r="2.25"/>
<circle cx="219" cy="549.8" r="2.25"/>
<circle cx="221.9" cy="548.6" r="2.25"/>
<circle cx="223.7" cy="548.6" r="2.25"/>
<circle cx="213.8" cy="552.7" r="2.25"/>
<circle cx="244.1" cy="545.1" r="2.25"/>
<circle cx="244.1" cy="546.9" r="2.25"/>
<circle cx="253.5" cy="544.5" r="2.25"/>
<circle cx="239.2" cy="549.6" r="2.25"/>
<circle cx="253.5" cy="552.5" r="2.25"/>
<circle cx="246.2" cy="555.1" r="2.25"/>
<circle cx="251.1" cy="559.1" r="2.25"/>
<circle cx="227.8" cy="562.3" r="2.25"/>
<circle cx="236.5" cy="563" r="2.25"/>
<circle cx="239.5" cy="560" r="2.25"/>
<circle cx="239.5" cy="563" r="2.25"/>
<circle cx="259.9" cy="545.7" r="2.25"/>
<circle cx="262.8" cy="545.5" r="2.25"/>
<circle cx="267.5" cy="547.5" r="2.25"/>
<circle cx="267.5" cy="551" r="2.25"/>
<circle cx="283.6" cy="553.9" r="2.25"/>
<circle cx="259.9" cy="557.4" r="2.25"/>
<circle cx="262.2" cy="558.6" r="2.25"/>
<circle cx="258.1" cy="561.5" r="2.25"/>
<circle cx="265.1" cy="561.1" r="2.25"/>
<circle cx="267.5" cy="558" r="2.25"/>
<circle cx="271.9" cy="563.8" r="2.25"/>
<circle cx="278.9" cy="573.7" r="2.25"/>
<circle cx="260.5" cy="582.2" r="2.25"/>
<circle cx="286.1" cy="546.9" r="2.25"/>
</svg>
</body></html>
